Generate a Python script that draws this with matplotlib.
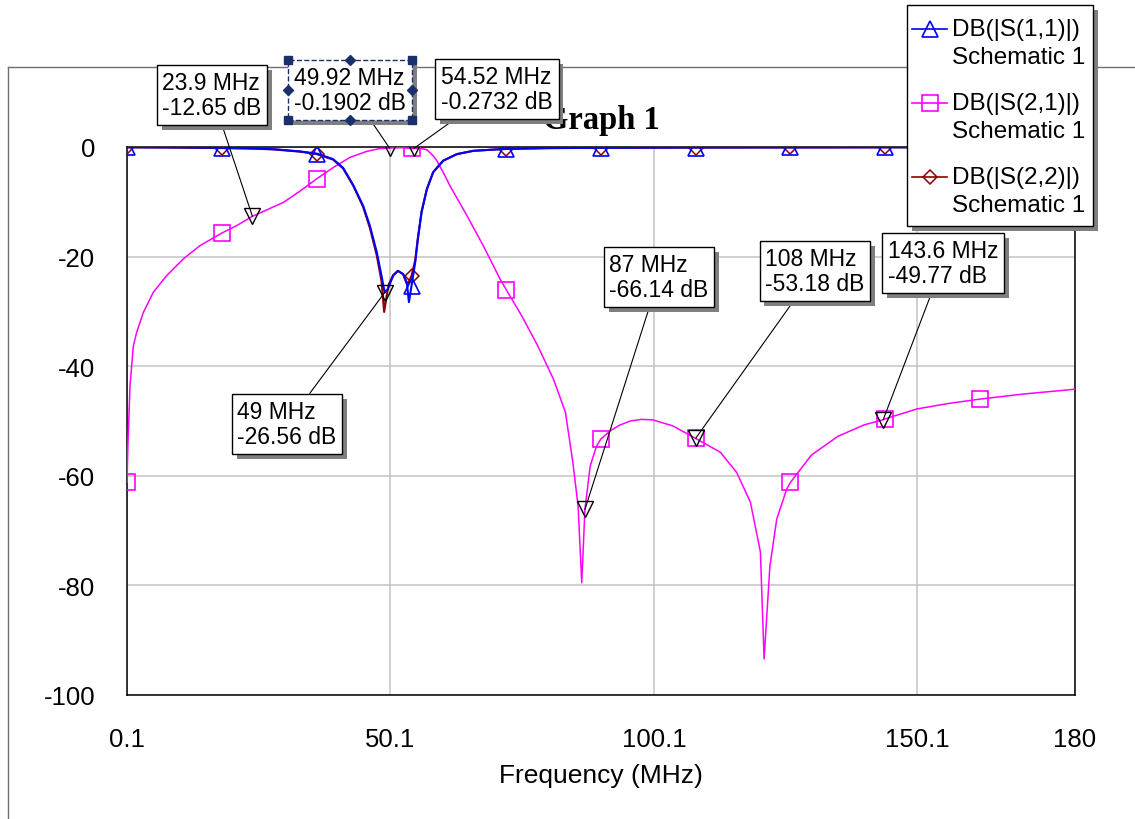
import matplotlib
matplotlib.use("Agg")
import numpy as np
import matplotlib.pyplot as plt
from matplotlib import patheffects
from matplotlib.lines import Line2D
from matplotlib.patches import Rectangle

plt.rcParams['font.family'] = ['Liberation Sans', 'DejaVu Sans']
plt.rcParams['axes.unicode_minus'] = False

# DB(|S(2,1)|) trace
s21_freq = [0.1, 0.3, 0.54, 0.67, 0.99, 1.3, 1.94, 3.2, 5.1, 7.6, 10.8, 13.95, 18.1, 21.0,
            23.9, 26.8, 29.8, 33.0, 36.1, 39.3, 42.4, 45.6, 48.0, 49.92, 52.0, 54.1, 54.52,
            56.0, 57.0, 58.2, 58.9, 60.1, 61.4, 63.0, 64.6, 67.7, 70.9, 72.1, 75.0, 78.0,
            81.0, 83.3, 84.7, 85.7, 86.4, 87.0, 88.0, 89.2, 90.0, 91.8, 93.5, 95.6, 97.8,
            99.9, 103.7, 108.0, 112.7, 115.8, 118.4, 120.3, 121.0, 122.1, 123.4, 125.3,
            126.0, 130.0, 135.0, 140.0, 143.6, 144.0, 150.0, 156.0, 162.0, 170.0, 180.0]
s21_db = [-61.2, -53.5, -47.2, -43.6, -39.9, -36.3, -33.8, -30.2, -26.5, -23.5, -20.4, -18.0,
          -15.7, -14.3, -12.65, -11.4, -10.1, -8.0, -5.8, -3.7, -1.9, -0.8, -0.3, -0.1902,
          -0.13, -0.25, -0.2732, -0.3, -0.5, -1.6, -2.5, -4.6, -7.1, -9.8, -12.5, -18.0,
          -24.1, -26.1, -30.8, -36.2, -42.3, -48.4, -57.5, -65.5, -79.5, -66.14, -58.2,
          -54.6, -53.3, -51.8, -50.8, -50.0, -49.7, -49.8, -50.9, -53.18, -55.7, -59.4,
          -64.8, -73.9, -93.4, -76.5, -67.9, -62.4, -61.2, -56.2, -52.8, -50.7, -49.77,
          -49.6, -47.8, -46.8, -46.0, -45.1, -44.2]

# DB(|S(1,1)|) trace
s11_freq = [0.1, 9.0, 18.1, 24.0, 28.0, 32.9, 36.1, 39.2, 41.1, 43.0, 44.9, 46.2, 47.5, 48.4,
            49.0, 49.6, 50.6, 51.5, 52.5, 53.2, 53.6, 54.1, 54.8, 55.3, 56.0, 57.0, 58.2,
            60.1, 62.7, 65.8, 70.9, 72.1, 80.0, 90.0, 108.0, 126.0, 144.0, 162.0, 180.0]
s11_db = [-0.05, -0.08, -0.15, -0.25, -0.4, -0.8, -1.2, -2.2, -3.8, -6.9, -10.7, -14.4, -19.2,
          -23.5, -26.56, -25.9, -23.5, -22.6, -23.2, -24.7, -28.3, -25.3, -21.0, -16.8,
          -11.9, -7.7, -4.6, -2.5, -1.3, -0.7, -0.4, -0.35, -0.2, -0.15, -0.1, -0.08,
          -0.06, -0.05, -0.05]

# DB(|S(2,2)|) trace
s22_freq = [0.1, 9.0, 18.1, 24.0, 28.0, 32.9, 36.1, 39.2, 41.1, 43.0, 44.9, 46.2, 47.5, 48.4,
            48.9, 49.4, 49.8, 50.6, 51.5, 52.5, 53.2, 53.6, 54.1, 54.8, 55.3, 56.0, 57.0,
            58.2, 60.1, 62.7, 65.8, 70.9, 72.1, 80.0, 90.0, 108.0, 126.0, 144.0, 162.0, 180.0]
s22_db = [-0.06, -0.1, -0.2, -0.3, -0.45, -0.85, -1.3, -2.3, -3.9, -7.0, -10.9, -14.8, -19.8,
          -24.5, -30.1, -27.0, -25.0, -23.4, -22.6, -23.2, -25.0, -24.6, -23.5, -20.6,
          -16.6, -11.8, -7.7, -4.6, -2.5, -1.3, -0.7, -0.4, -0.35, -0.2, -0.15, -0.1,
          -0.08, -0.06, -0.05, -0.05]

# frequencies where trace symbols are drawn
symbol_freq = [0.1, 18.1, 36.1, 54.1, 72.1, 90.0, 108.0, 126.0, 144.0, 162.0]

# marker readouts
marker_freq = [23.9, 49.92, 54.52, 49.0, 87.0, 108.0, 143.6]
marker_db = [-12.65, -0.1902, -0.2732, -26.56, -66.14, -53.18, -49.77]
# readout box centres (figure pixels from top-left)
marker_box = [(212, 96), (350, 91), (497, 90), (287, 425), (659, 278), (815, 272), (943, 264)]
selected_marker = 1

x_ticks = [0.1, 50.1, 100.1, 150.1, 180]
x_tick_labels = ['0.1', '50.1', '100.1', '150.1', '180']
y_ticks = [0, -20, -40, -60, -80, -100]

traces = [
    ('DB(|S(1,1)|)', s11_freq, s11_db, dict(color='#0000ff', lw=1.5, marker='^', ms=12, mew=1.2), 5),
    ('DB(|S(2,1)|)', s21_freq, s21_db, dict(color='#ff00ff', lw=1.1, marker='s', ms=11.5, mew=1.2), 3),
    ('DB(|S(2,2)|)', s22_freq, s22_db, dict(color='#8b0000', lw=1.5, marker='D', ms=7, mew=1.1), 4),
]

W, H = 1135, 820
fig = plt.figure(figsize=(W / 100, H / 100), dpi=100)

# outer graph frame
fig.add_artist(Line2D([8 / W, 1.0], [1 - 68 / H] * 2, transform=fig.transFigure,
                      color='#6e6e6e', lw=1, zorder=-1))
fig.add_artist(Line2D([8 / W] * 2, [1 - 68 / H, 0.0], transform=fig.transFigure,
                      color='#6e6e6e', lw=1, zorder=-1))

ax = fig.add_axes([127 / W, 1 - 696 / H, (1075 - 127) / W, (696 - 148) / H])
ax.set_xlim(0.1, 180)
ax.set_ylim(-100, 0)
ax.set_xticks(x_ticks)
ax.set_xticklabels(x_tick_labels)
ax.set_yticks(y_ticks)
ax.tick_params(length=0, labelsize=18.5, colors='black')
ax.tick_params(axis='x', pad=23)
ax.tick_params(axis='y', pad=23)
ax.grid(True, color='#c4c4c4', lw=1.1, zorder=0)
for sp in ax.spines.values():
    sp.set_linewidth(1.1)
ax.set_xlabel('Frequency (MHz)', fontsize=19, va='top')
ax.xaxis.set_label_coords(0.5, -0.125)

for name, f, db, st, z in traces:
    every = [f.index(s) for s in symbol_freq]
    ax.plot(f, db, color=st['color'], lw=st['lw'], marker=st['marker'], ms=st['ms'],
            mfc='none', mec=st['color'], mew=st['mew'], markevery=every, zorder=z,
            clip_on=True)

ax.plot(marker_freq, marker_db, 'v', ms=11, mfc='none', mec='black', mew=1.0, zorder=6)

ax.text(601 / W, 1 - 121 / H, 'Graph 1', transform=fig.transFigure, ha='center', va='center',
        family='Liberation Serif', weight='bold', fontsize=23.5, zorder=1)

shadow = patheffects.withSimplePatchShadow(offset=(3.5, -3.5), shadow_rgbFace='#7f7f7f', alpha=1.0)
navy = '#1b2f6b'
anns = []
for i, (f, db, (cx, cy)) in enumerate(zip(marker_freq, marker_db, marker_box)):
    sel = i == selected_marker
    a = ax.annotate(f'{f:g} MHz\n{db:g} dB', xy=(f, db), xycoords='data',
                    xytext=(cx, H - cy), textcoords='figure pixels',
                    ha='center', va='center', multialignment='left', fontsize=16.5,
                    linespacing=1.15,
                    bbox=dict(boxstyle='square,pad=0.25', fc='white',
                              ec=navy if sel else 'black', lw=1.0,
                              ls='--' if sel else '-'),
                    arrowprops=dict(arrowstyle='-', color='black', lw=0.8,
                                    shrinkA=0, shrinkB=0),
                    zorder=10, annotation_clip=False)
    a.get_bbox_patch().set_path_effects([shadow])
    anns.append(a)

# overlay for legend and selection handles, in figure pixels
lax = fig.add_axes([0, 0, 1, 1])
lax.set_xlim(0, W)
lax.set_ylim(H, 0)
lax.axis('off')

leg = Rectangle((907, 6), 186, 221, fc='white', ec='black', lw=1.0)
leg.set_path_effects([shadow])
lax.add_patch(leg)
for k, (name, f, db, st, z) in enumerate(traces):
    y = 30 + 74 * k
    lax.plot([912, 947], [y, y], color=st['color'], lw=1.2)
    lax.plot([929.5], [y], marker=st['marker'], ms=st['ms'] * 0.95, mfc='none',
             mec=st['color'], mew=st['mew'], ls='none')
    lax.text(952, y, name, fontsize=17.5, va='center', ha='left')
    lax.text(952, y + 28, 'Schematic 1', fontsize=17.5, va='center', ha='left')

fig.canvas.draw()
r = fig.canvas.get_renderer()
bb = anns[selected_marker].get_bbox_patch().get_window_extent(r)
inv = lax.transData.inverted()
(x0, y1), (x1, y0) = inv.transform([[bb.x0, bb.y0], [bb.x1, bb.y1]])
xm, ym = (x0 + x1) / 2, (y0 + y1) / 2
lax.plot([x0, x1, x0, x1], [y0, y0, y1, y1], 's', ms=6, color=navy)
lax.plot([xm, xm, x0, x1], [y0, y1, ym, ym], 'D', ms=5, color=navy)

fig.savefig('out.png', dpi=100)
